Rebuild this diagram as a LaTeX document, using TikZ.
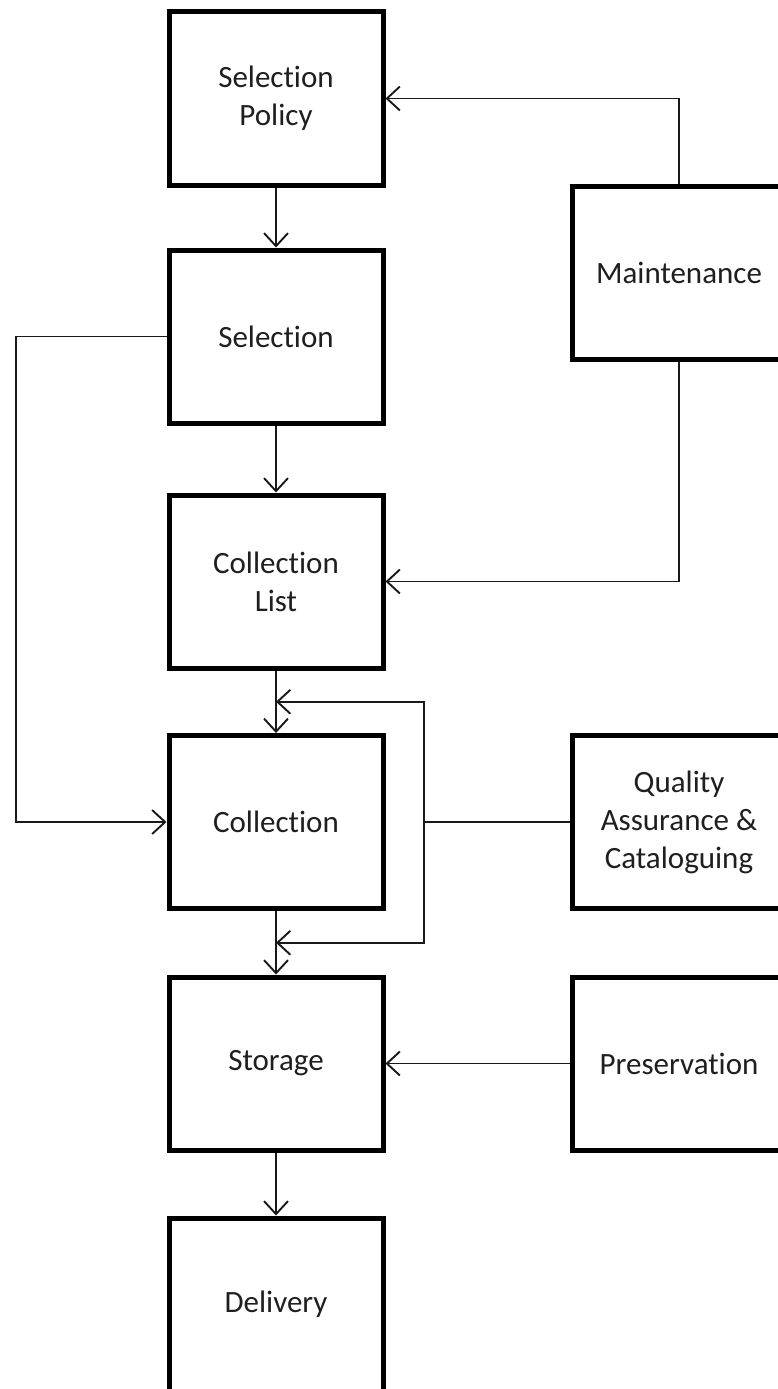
\documentclass[tikz,border=0pt]{standalone}
\usepackage{fontspec}
\setmainfont[Ligatures={NoCommon,NoContextual},RawFeature={-liga;-clig;-calt}]{Carlito}
\usetikzlibrary{arrows.meta,calc}
\begin{document}
\begin{tikzpicture}[x=1pt,y=-1pt,
  proc/.style={draw, line width=5pt, fill=white, minimum width=214pt,
    minimum height=173pt, inner sep=0pt, align=center, text=black!88,
    font=\fontsize{31}{38}\selectfont},
  link/.style={line width=1.9pt, draw=black!90},
  flow/.style={link, -{Straight Barb[length=13pt,width=24pt,line width=1.9pt]}}]
\useasboundingbox (0,0) rectangle (778,1389);
\clip (0,0) rectangle (778,1389);
\fill[white] (0,0) rectangle (778,1389);

% main chain of steps
\node[proc] (policy)   at (276,98.5)  {Selection\\Policy};
\node[proc] (select)   at (276,336.5) {Selection};
\node[proc] (list)     at (276,581.5) {Collection\\List};
\node[proc] (collect)  at (276,822)   {Collection};
\node[proc] (storage)  at (276,1063.5){Storage};
\node[proc] (delivery) at (276,1304.5){Delivery};

% supporting activities on the right
\node[proc] (maint) at (679,273)    {Maintenance};
\node[proc] (qa)    at (679,822)    {Quality\\Assurance \&\\Cataloguing};
\node[proc] (pres)  at (679,1063.5) {Preservation};

% helper points for routed connectors
\coordinate (rail)  at (16,0);
\coordinate (qrail) at (424,0);
\coordinate (tipa) at ($(list.south)!0.5!(collect.north)$);
\coordinate (tipb) at ($(collect.south)!0.5!(storage.north)$);
\coordinate (qjoin) at (qa.west -| qrail);

% straight flow down the chain
\draw[flow] (policy) -- (select);
\draw[flow] (select) -- (list);
\draw[flow] (list) -- (collect);
\draw[flow] (collect) -- (storage);
\draw[flow] (storage) -- (delivery);

% maintenance feeds back to policy and list
\draw[flow] (maint.north) |- (policy.east);
\draw[flow] (maint.south) |- (list.east);

% selection bypass into collection
\draw[flow] (select.west) -- (select.west -| rail) |- (collect.west);

% quality assurance loop around collection
\draw[link] (qa.west) -- (qjoin);
\draw[flow] (qjoin) |- (tipa);
\draw[flow] (qjoin) |- (tipb);

% preservation acts on storage
\draw[flow] (pres.west) -- (storage.east);
\end{tikzpicture}
\end{document}
